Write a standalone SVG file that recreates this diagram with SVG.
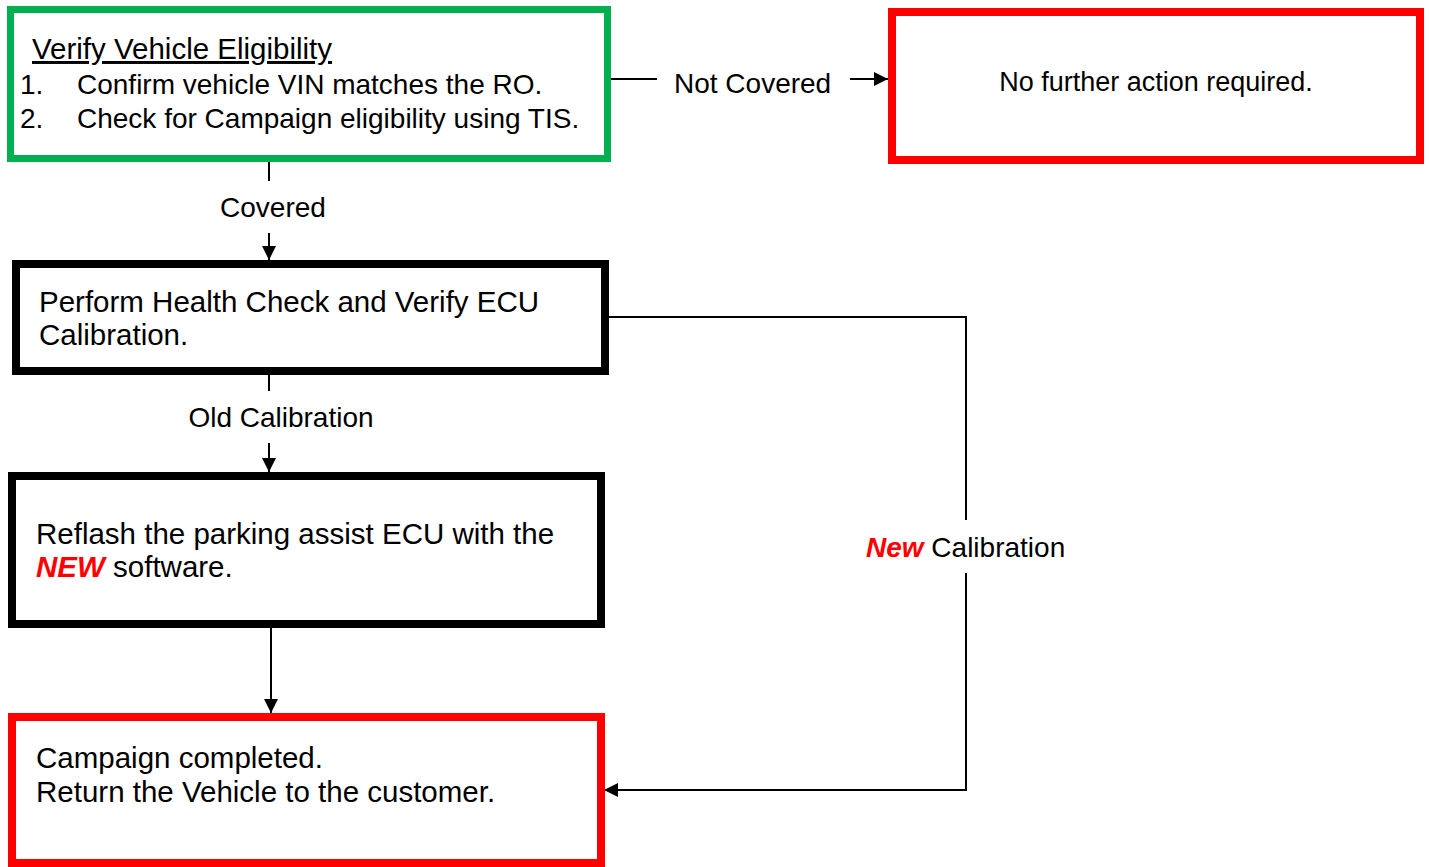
<svg xmlns="http://www.w3.org/2000/svg" width="1429" height="867" viewBox="0 0 1429 867">
  <style>
    text { font-family: "Liberation Sans", Arial, sans-serif; fill: #000; }
    .box { fill: #fff; }
    .green { stroke: #00B050; stroke-width: 7; }
    .red { stroke: #FF0000; stroke-width: 8; }
    .black { stroke: #000; stroke-width: 8; }
    .t29 { font-size: 29.5px; }
    .t28 { font-size: 28px; }
    .t27 { font-size: 27px; }
    .emph { fill: #FF0000; font-weight: bold; font-style: italic; }
    .wire { fill: none; stroke: #000; stroke-width: 2; }
  </style>
  <defs>
    <marker id="arrow" viewBox="0 0 14 14" refX="14" refY="7" markerWidth="14" markerHeight="14" markerUnits="userSpaceOnUse" orient="auto">
      <path d="M0,0 L14,7 L0,14 Z" fill="#000"/>
    </marker>
  </defs>

  <rect width="1429" height="867" fill="#fff"/>

  <!-- connectors -->
  <g id="connectors">
    <!-- eligibility -> no action -->
    <line class="wire" x1="611" y1="79" x2="657" y2="79"/>
    <line class="wire" x1="850" y1="79" x2="888" y2="79" marker-end="url(#arrow)"/>
    <text class="t28" x="674" y="93">Not Covered</text>

    <!-- eligibility -> health check -->
    <line class="wire" x1="269" y1="162" x2="269" y2="181"/>
    <line class="wire" x1="269" y1="233" x2="269" y2="260" marker-end="url(#arrow)"/>
    <text class="t28" x="273" y="217" text-anchor="middle">Covered</text>

    <!-- health check -> reflash -->
    <line class="wire" x1="269" y1="375" x2="269" y2="391"/>
    <line class="wire" x1="269" y1="443" x2="269" y2="472" marker-end="url(#arrow)"/>
    <text class="t28" x="281" y="427" text-anchor="middle">Old Calibration</text>

    <!-- reflash -> completed -->
    <line class="wire" x1="271" y1="628" x2="271" y2="713" marker-end="url(#arrow)"/>

    <!-- health check -> completed (new calibration) -->
    <polyline class="wire" points="609,317 966,317 966,520"/>
    <polyline class="wire" points="966,573 966,790 604,790" marker-end="url(#arrow)"/>
    <text class="t28" x="866" y="557"><tspan class="emph">New</tspan> Calibration</text>
  </g>

  <!-- verify eligibility -->
  <g id="node-eligibility">
    <rect class="box green" x="10.5" y="9.5" width="597" height="149"/>
    <text class="t29" x="32" y="59" text-decoration="underline">Verify Vehicle Eligibility</text>
    <text class="t28" x="20" y="94">1.</text>
    <text class="t28" x="77" y="94">Confirm vehicle VIN matches the RO.</text>
    <text class="t28" x="20" y="128">2.</text>
    <text class="t28" x="77" y="128">Check for Campaign eligibility using TIS.</text>
  </g>

  <!-- not covered outcome -->
  <g id="node-no-action">
    <rect class="box red" x="892" y="12" width="528" height="148"/>
    <text class="t27" x="1156" y="91" text-anchor="middle">No further action required.</text>
  </g>

  <!-- health check -->
  <g id="node-health-check">
    <rect class="box black" x="16" y="264" width="589" height="107"/>
    <text class="t29" x="39" y="312">Perform Health Check and Verify ECU</text>
    <text class="t29" x="39" y="345">Calibration.</text>
  </g>

  <!-- reflash -->
  <g id="node-reflash">
    <rect class="box black" x="12" y="476" width="589" height="148"/>
    <text class="t29" x="36" y="544">Reflash the parking assist ECU with the</text>
    <text class="t29" x="36" y="577"><tspan class="emph">NEW</tspan> software.</text>
  </g>

  <!-- campaign completed -->
  <g id="node-completed">
    <rect class="box red" x="12" y="717" width="589" height="146"/>
    <text class="t29" x="36" y="768">Campaign completed.</text>
    <text class="t29" x="36" y="802">Return the Vehicle to the customer.</text>
  </g>
</svg>
